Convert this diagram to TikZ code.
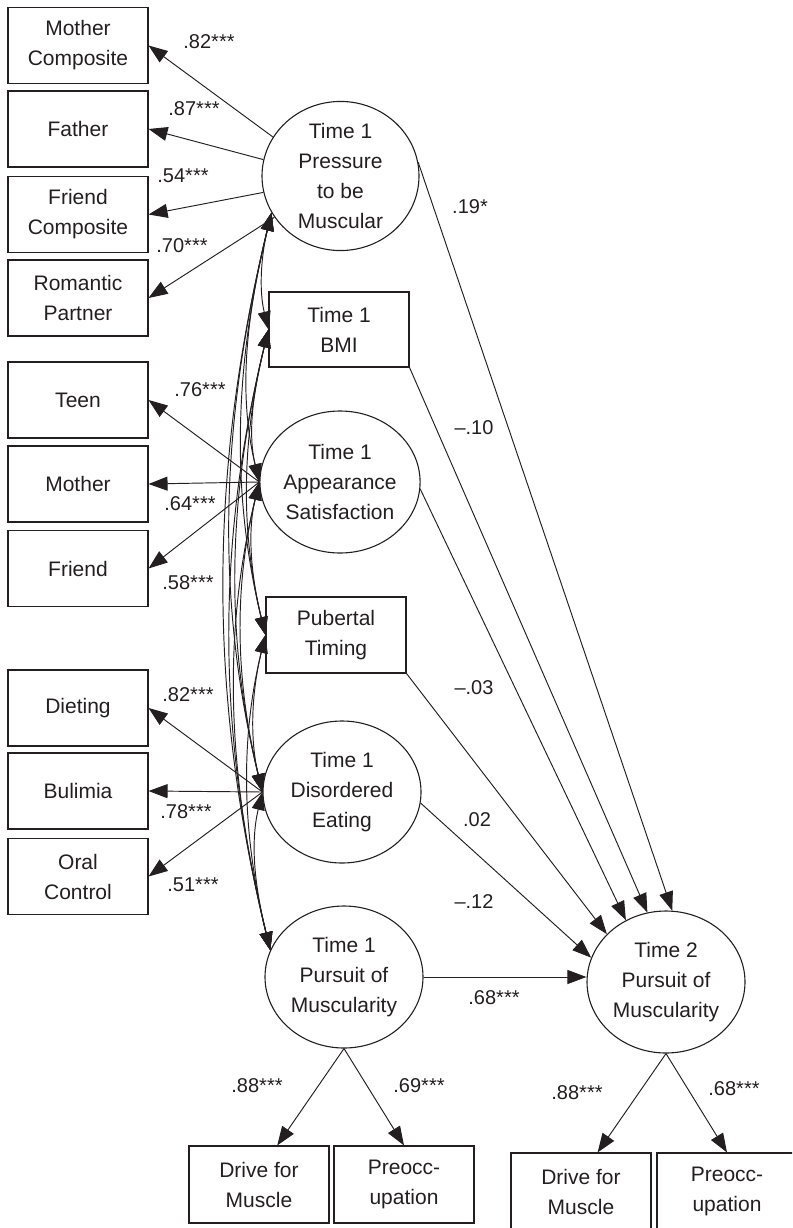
\documentclass[tikz,border=0pt]{standalone}
\usepackage{fontspec}
\setmainfont{Liberation Sans}
\usetikzlibrary{arrows.meta,shapes.geometric}
\definecolor{ink}{HTML}{231F20}
\tikzset{
  box/.style={draw=ink, line width=1.1pt, minimum width=140pt, minimum height=76pt, inner sep=0pt, align=center, font=\fontsize{21}{30}\selectfont, text=ink},
  lat/.style={ellipse, draw=ink, line width=1.1pt, minimum width=157pt, minimum height=142pt, inner sep=0pt, align=center, font=\fontsize{21}{30}\selectfont, text=ink},
  lbl/.style={font=\fontsize{20}{24}\selectfont, text=ink, inner sep=0pt},
  arr/.style={line width=0.95pt, draw=ink, -{Triangle[length=19pt,width=14pt]}},
  cov/.style={line width=0.95pt, draw=ink, {Triangle[length=18pt,width=13pt]}-{Triangle[length=18pt,width=13pt]}},
}
\begin{document}
\begin{tikzpicture}[x=1pt,y=1pt]
\useasboundingbox (0,0) rectangle (792,-1228);
\clip (0,0) rectangle (792,-1228);
% left indicator boxes
\node[box] (mc) at (78,-45.5) {Mother\\Composite};
\node[box] (fa) at (78,-129) {Father};
\node[box] (fc) at (78,-214.5) {Friend\\Composite};
\node[box] (rp) at (78,-298) {Romantic\\Partner};
\node[box] (teen) at (78,-400) {Teen};
\node[box] (mo) at (78,-484) {Mother};
\node[box] (fr) at (78,-568.5) {Friend};
\node[box] (diet) at (78,-708) {Dieting};
\node[box] (bul) at (78,-791) {Bulimia};
\node[box] (oral) at (78,-876.5) {Oral\\Control};
% central column
\node[lat] (pressure) at (340.5,-176) {Time 1\\Pressure\\to be\\Muscular};
\node[box, minimum height=75pt] (bmi) at (339,-329.5) {Time 1\\BMI};
\node[lat, minimum width=155pt] (app) at (340,-482) {Time 1\\Appearance\\Satisfaction};
\node[box] (pub) at (336,-635) {Pubertal\\Timing};
\node[lat, minimum width=158pt] (dis) at (342,-792) {Time 1\\Disordered\\Eating};
\node[lat, minimum width=158pt] (t1p) at (344,-977) {Time 1\\Pursuit of\\Muscularity};
\node[lat, minimum width=158pt] (t2) at (666,-982) {Time 2\\Pursuit of\\Muscularity};
% bottom indicators
\node[box, minimum height=77pt] (d1) at (259,-1184.5) {Drive for\\Muscle};
\node[box, minimum height=77pt] (p1) at (404,-1184.5) {Preocc-\\upation};
\node[box, minimum height=77pt] (d2) at (581,-1191.5) {Drive for\\Muscle};
\node[box, minimum height=77pt] (p2) at (727,-1191.5) {Preocc-\\upation};
% loadings
\draw[arr] (pressure.150) -- (mc.east);
\draw[arr] (pressure.168) -- (fa.east);
\draw[arr] (pressure.192) -- (fc.east);
\draw[arr] (pressure.212) -- (rp.east);
\draw[arr] (app.west) -- (teen.east);
\draw[arr] (app.west) -- (mo.east);
\draw[arr] (app.west) -- (fr.east);
\draw[arr] (dis.west) -- (diet.east);
\draw[arr] (dis.west) -- (bul.east);
\draw[arr] (dis.west) -- (oral.east);
\draw[arr] (t1p.south) -- (d1.65);
\draw[arr] (t1p.south) -- (p1.north);
\draw[arr] (t2.south) -- (d2.67);
\draw[arr] (t2.south) -- (p2.north);
% structural paths
\draw[arr] (pressure.10) -- (t2.85);
\draw[arr] (bmi.south east) -- (t2.105);
\draw[arr] (app.355) -- (t2.123);
\draw[arr] (pub.south east) -- (t2.141);
\draw[arr] (dis.352) -- (t2.162);
\draw[arr] (t1p.east) -- (t1p.east -| t2.west);
% covariances
\foreach \a/\b/\d in {pressure.208/bmi.west/117, pressure.208/app.west/269, pressure.208/pub.west/422, pressure.208/dis.west/579, pressure.208/t1p.160/737, bmi.west/app.west/152, bmi.west/pub.west/305, bmi.west/dis.west/462, bmi.west/t1p.160/620, app.west/pub.west/153, app.west/dis.west/310, app.west/t1p.160/468, pub.west/dis.west/157, pub.west/t1p.160/315, dis.west/t1p.160/158}
  \draw[cov] (\a) .. controls +(-0.085*\d,-0.35*\d) and +(-0.085*\d,0.35*\d) .. (\b);
% labels
\node[lbl] (l1) at (209,-42) {.82***};
\node[lbl] (l2) at (194,-109) {.87***};
\node[lbl] (l3) at (183,-176) {.54***};
\node[lbl] (l4) at (182,-246) {.70***};
\node[lbl] (l5) at (200,-390) {.76***};
\node[lbl] (l6) at (190,-504) {.64***};
\node[lbl] (l7) at (188,-583) {.58***};
\node[lbl] (l8) at (188,-695) {.82***};
\node[lbl] (l9) at (186,-812) {.78***};
\node[lbl] (l10) at (193,-885) {.51***};
\node[lbl] (l11) at (470,-207) {.19*};
\node[lbl] (l12) at (474,-428) {\textendash.10};
\node[lbl] (l13) at (474,-688) {\textendash.03};
\node[lbl] (l14) at (477,-820) {.02};
\node[lbl] (l15) at (474,-902) {\textendash.12};
\node[lbl] (l16) at (494,-998) {.68***};
\node[lbl] (l17) at (257,-1086) {.88***};
\node[lbl] (l18) at (419,-1086) {.69***};
\node[lbl] (l19) at (577,-1093) {.88***};
\node[lbl] (l20) at (734,-1089) {.68***};
\end{tikzpicture}
\end{document}
